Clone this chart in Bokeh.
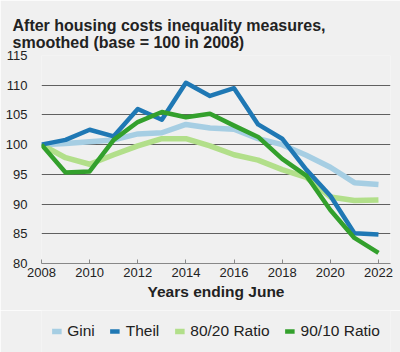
from bokeh.plotting import figure
from bokeh.models import Range1d, Legend, LegendItem, FixedTicker
from bokeh.layouts import column
from bokeh.embed import file_html
from bokeh.resources import INLINE

years = list(range(2008, 2023))
gini = [100, 100.2, 100.5, 100.8, 101.8, 102.0, 103.4, 102.8, 102.6, 101.0, 100.0, 98.2, 96.2, 93.6, 93.3]
theil = [100, 100.8, 102.5, 101.4, 106.0, 104.2, 110.4, 108.2, 109.5, 103.4, 101.0, 95.8, 91.4, 85.1, 84.9]
r8020 = [100, 97.8, 96.7, 98.3, 99.8, 101.0, 101.0, 99.8, 98.3, 97.4, 95.8, 94.5, 91.2, 90.6, 90.7]
r9010 = [100, 95.3, 95.5, 100.8, 103.8, 105.5, 104.6, 105.2, 103.2, 101.3, 97.6, 94.8, 89.0, 84.3, 81.8]
labels = ["Gini", "Theil", "80/20 Ratio", "90/10 Ratio"]
colors = ["#a6cee3", "#1f78b4", "#b2df8a", "#33a02c"]
widths = [5.5, 4.5, 5.5, 4.5]
x_ticks = list(range(2008, 2023, 2))
y_ticks = [80, 85, 90, 95, 100, 105, 110, 115]

FONT = "Liberation Sans"
BG = "#f0f0f0"

p = figure(width=400, height=310, output_backend="svg", toolbar_location=None,
           x_range=Range1d(2008, 2022.5), y_range=Range1d(80, 115),
           background_fill_color=BG, border_fill_color=BG,
           min_border_left=41, min_border_right=10, min_border_top=55,
           min_border_bottom=47, outline_line_color=None)

p.title.text = "After housing costs inequality measures,\nsmoothed (base = 100 in 2008)"
p.title.text_font = FONT
p.title.text_font_size = "16px"
p.title.text_font_style = "bold"
p.title.text_color = "#222222"
p.title.align = "left"
p.title.offset = -29
p.title.standoff = 10

series = [gini, theil, r8020, r9010]
for idx in [0, 2, 1, 3]:
    p.line(years, series[idx], line_color=colors[idx], line_width=widths[idx],
           line_join="round", line_cap="butt")

p.xaxis.ticker = FixedTicker(ticks=x_ticks)
p.xaxis.minor_tick_line_color = None
p.xaxis.major_tick_in = 4
p.xaxis.major_tick_out = 0
p.xaxis.major_tick_line_color = "#888888"
p.xaxis.axis_line_color = "#888888"
p.xaxis.major_label_text_font = FONT
p.xaxis.major_label_text_font_size = "13px"
p.xaxis.major_label_text_color = "#222222"
p.xaxis.major_label_standoff = 4
p.xaxis.axis_label = "Years ending June"
p.xaxis.axis_label_text_font = FONT
p.xaxis.axis_label_text_font_size = "15.5px"
p.xaxis.axis_label_text_font_style = "bold"
p.xaxis.axis_label_text_color = "#222222"
p.xaxis.axis_label_standoff = 3

p.yaxis.ticker = FixedTicker(ticks=y_ticks)
p.yaxis.axis_line_color = None
p.yaxis.major_tick_line_color = None
p.yaxis.minor_tick_line_color = None
p.yaxis.major_label_text_font = FONT
p.yaxis.major_label_text_font_size = "13px"
p.yaxis.major_label_text_color = "#222222"
p.yaxis.major_label_standoff = 8

p.xgrid.grid_line_color = None
p.ygrid.ticker = FixedTicker(ticks=[85, 90, 95, 100, 105, 110, 115])
p.ygrid.grid_line_color = "#606060"
p.ygrid.grid_line_width = 1

# legend strip: same series drawn outside the strip's visible range, used only for legend glyphs
q = figure(width=400, height=42, output_backend="svg", toolbar_location=None,
           x_range=Range1d(0, 1), y_range=Range1d(0, 1),
           background_fill_color=BG, border_fill_color=BG,
           min_border_left=37, min_border_right=0, min_border_top=0, min_border_bottom=0,
           outline_line_color=None)
q.axis.visible = False
q.grid.visible = False
items = []
for i in range(4):
    r = q.line(years, series[i], line_color=colors[i], line_width=widths[i], line_cap="butt")
    items.append(LegendItem(label=labels[i], renderers=[r]))
legend = Legend(items=items, orientation="horizontal", location="center",
                label_text_font=FONT, label_text_font_size="15.5px", label_text_color="#222222",
                glyph_width=10, glyph_height=10, label_standoff=6, spacing=15,
                background_fill_alpha=0, border_line_color=None, padding=4, margin=0)
q.add_layout(legend, "center")

layout = column(p, q, spacing=0)
open("out.html", "w").write(file_html(layout, INLINE))
